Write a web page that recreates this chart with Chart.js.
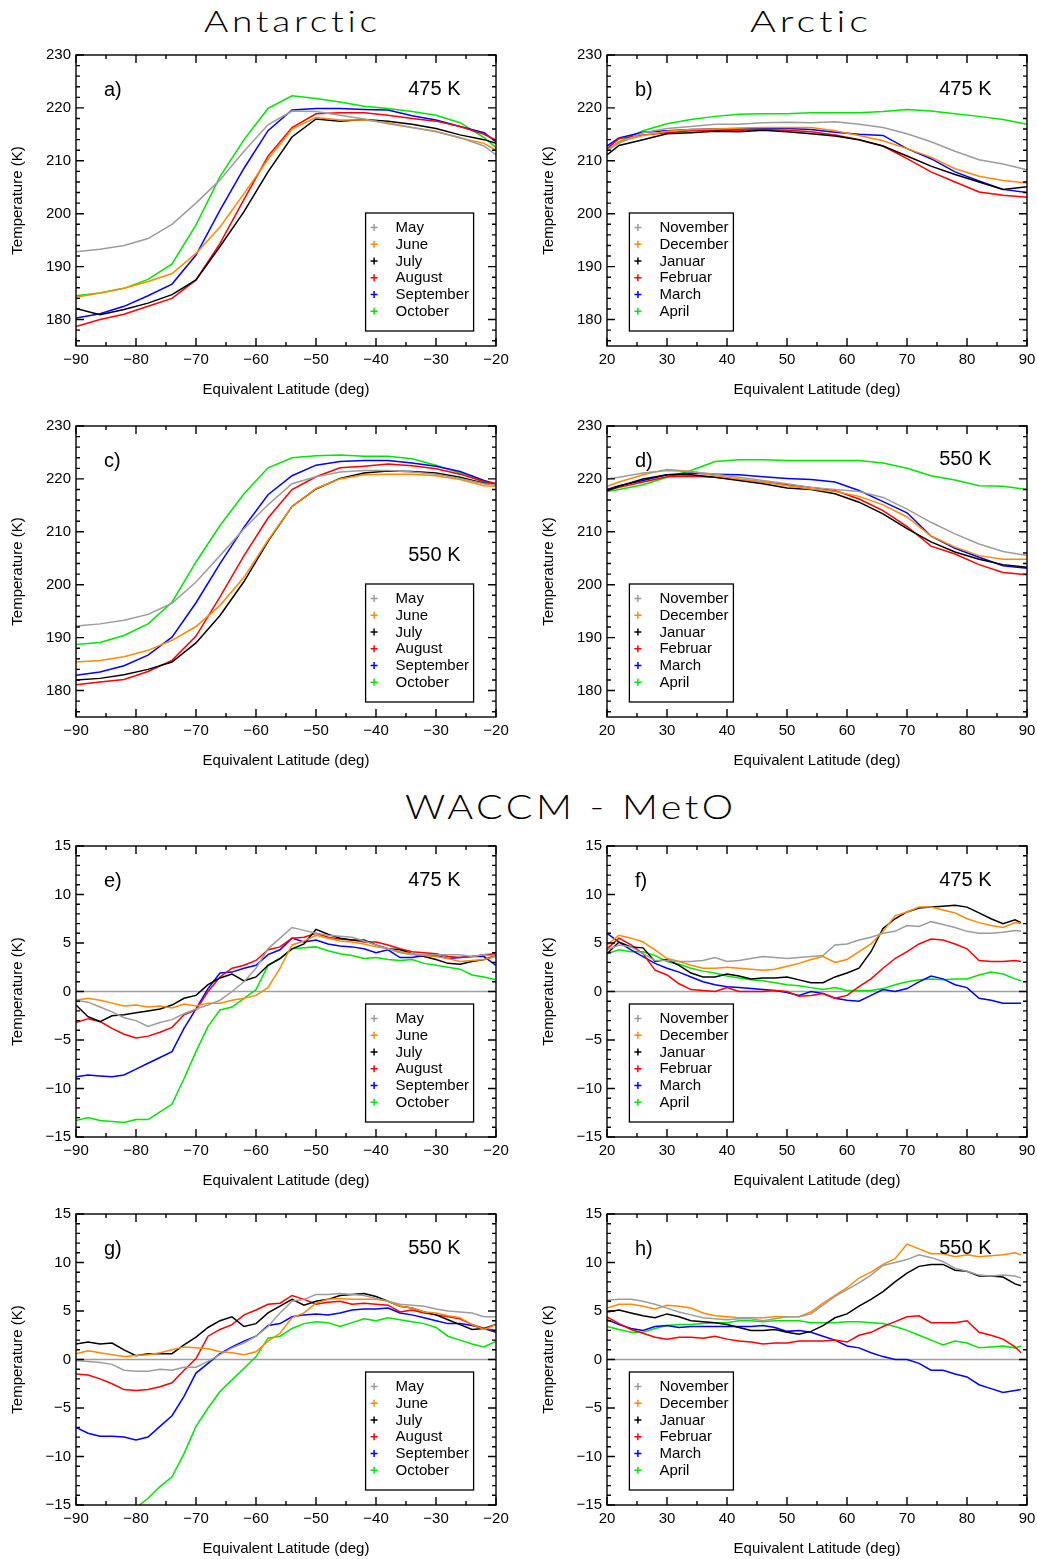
<!DOCTYPE html>
<html><head><meta charset="utf-8">
<script src="https://cdn.jsdelivr.net/npm/chart.js@4.4.1/dist/chart.umd.min.js"></script>
<style>
html,body{margin:0;padding:0;background:#fff;}
body{position:relative;width:1037px;height:1559px;overflow:hidden;}
canvas{position:absolute;}
.ttl{position:absolute;font-family:Lato,"Open Sans",sans-serif;font-weight:300;color:#000;white-space:nowrap;line-height:1;transform-origin:0 50%;}
</style></head><body>
<div class="ttl" id="t1" style="font-size:30px">Antarctic</div>
<div class="ttl" id="t2" style="font-size:30px">Arctic</div>
<div class="ttl" id="t3" style="font-size:34px">WACCM - MetO</div>
<canvas id="pa"></canvas><canvas id="pb"></canvas>
<canvas id="pc"></canvas><canvas id="pd"></canvas>
<canvas id="pe"></canvas><canvas id="pf"></canvas>
<canvas id="pg"></canvas><canvas id="ph"></canvas>
<script>
// ---------- categories / ticks ----------
const monthsSouth = ['May','June','July','August','September','October'];
const monthsNorth = ['November','December','Januar','Februar','March','April'];
const xTicksSouth = [-90,-80,-70,-60,-50,-40,-30,-20];
const xTicksNorth = [20,30,40,50,60,70,80,90];
const yTicksTemp = [180,190,200,210,220,230];
const yTicksDiff = [-15,-10,-5,0,5,10,15];

// latitude grids
const latS = [-90,-86,-82,-78,-74,-70,-66,-62,-58,-54,-50,-46,-42,-38,-34,-30,-26,-22,-20];
const latN = [20,22,26,30,34,38,42,46,50,54,58,62,66,70,74,78,82,86,90];
const latSd = [-90,-88,-86,-84,-82,-80,-78,-76,-74,-72,-70,-68,-66,-64,-62,-60,-58,-56,-54,-52,-50,-48,-46,-44,-42,-40,-38,-36,-34,-32,-30,-28,-26,-24,-22,-20];
const latNd = [20,22,24,26,28,30,32,34,36,38,40,42,44,46,48,50,52,54,56,58,60,62,64,66,68,70,72,74,76,78,80,82,84,86,88,89];

// ---------- a) Antarctic 475 K ----------
const aMay = [192.8,193.3,194.0,195.3,198.0,202.0,206.4,211.8,216.8,219.4,219.3,218.6,217.9,217.0,216.3,215.5,214.4,212.8,211.1];
const aJun = [184.2,185.0,185.9,187.2,188.7,192.5,197.5,203.8,210.3,216.0,218.2,217.7,217.7,217.2,216.3,215.6,214.3,213.3,212.0];
const aJul = [182.1,180.9,181.9,183.1,184.7,187.5,193.8,200.4,207.9,214.5,217.9,217.5,217.8,217.5,216.9,216.1,214.9,214.0,213.3];
const aAug = [178.7,180.0,181.0,182.5,184.0,187.5,194.4,202.7,210.9,216.3,218.9,219.1,219.1,218.6,218.0,217.5,216.5,215.0,213.9];
const aSep = [180.3,181.1,182.5,184.5,186.7,192.2,200.7,208.6,215.7,219.6,219.9,219.9,219.7,219.6,218.5,217.7,216.5,215.3,213.6];
const aOct = [184.5,185.0,185.9,187.6,190.5,197.9,207.0,214.0,219.9,222.3,221.8,221.1,220.3,219.9,219.3,218.6,217.2,214.4,212.5];
// ---------- b) Arctic 475 K ----------
const bNov = [212.0,213.3,215.3,216.1,216.5,216.9,216.9,217.2,217.3,217.2,217.4,216.9,216.3,215.1,213.6,211.8,210.2,209.4,208.3];
const bDec = [211.9,213.6,214.8,215.6,215.9,216.0,216.2,216.3,216.3,216.3,215.7,214.8,213.8,212.3,210.7,208.5,207.1,206.3,205.8];
const bJan = [211.1,212.9,214.0,215.1,215.3,215.6,215.5,215.8,215.5,215.1,214.7,214.0,212.8,210.9,209.0,207.4,206.0,204.6,205.1];
const bFeb = [212.3,214.2,214.9,215.3,215.7,215.8,215.8,215.9,215.8,215.5,214.9,214.0,212.8,210.4,207.9,206.0,204.1,203.5,203.1];
const bMar = [212.8,214.3,215.4,215.7,215.9,216.0,216.0,216.1,216.1,215.9,215.4,215.0,214.8,212.3,210.4,207.9,206.2,204.6,204.0];
const bApr = [212.0,213.6,215.7,217.0,217.8,218.4,218.8,218.9,218.9,219.1,219.1,219.1,219.3,219.7,219.4,218.9,218.4,217.8,216.9];
// ---------- c) Antarctic 550 K ----------
const cMay = [192.2,192.6,193.3,194.4,196.5,200.5,205.5,210.6,215.1,219.1,220.4,221.3,221.6,221.6,221.3,220.9,220.1,219.1,218.9];
const cJun = [185.4,185.7,186.4,187.6,189.5,192.1,196.1,201.4,208.4,214.8,218.2,220.0,220.8,220.9,220.9,220.6,219.9,218.7,218.6];
const cJul = [182.0,182.3,183.0,184.0,185.4,189.0,194.2,200.6,208.2,214.8,218.1,220.1,221.1,221.5,221.4,221.1,220.3,219.2,218.9];
const cAug = [181.1,181.6,182.1,183.6,185.7,190.3,197.7,205.5,212.6,218.0,220.4,222.1,222.4,222.8,222.5,221.9,220.9,219.5,219.1];
const cSep = [182.9,183.5,184.7,186.7,190.1,196.6,204.0,210.9,217.0,220.6,222.6,223.3,223.5,223.5,223.0,222.4,221.4,219.7,219.1];
const cOct = [188.7,189.1,190.4,192.6,196.7,204.3,211.2,217.2,222.1,224.0,224.4,224.5,224.3,224.3,223.8,222.6,221.1,219.4,218.9];
// ---------- d) Arctic 550 K ----------
const dNov = [220.0,220.3,221.1,221.6,221.4,220.9,220.3,219.7,219.1,218.4,218.0,217.6,216.5,214.3,211.8,209.6,207.7,206.3,205.5];
const dDec = [218.6,219.4,220.8,221.8,221.4,220.6,220.0,219.4,218.7,218.1,217.6,216.7,215.1,212.8,209.2,207.1,205.5,204.8,204.8];
const dJan = [217.8,218.6,220.0,220.8,220.8,220.3,219.7,219.1,218.3,218.0,217.2,215.6,213.4,210.6,208.1,206.2,204.8,203.8,203.3];
const dFeb = [217.8,218.4,219.4,220.4,220.5,220.3,219.9,219.4,218.9,218.4,217.8,216.2,214.0,211.0,207.3,205.8,203.8,202.3,201.9];
const dMar = [218.0,218.7,219.7,220.8,221.1,220.9,220.8,220.4,220.1,219.9,219.4,217.8,215.7,213.6,209.2,206.9,205.2,203.6,203.1];
const dApr = [217.6,218.0,218.9,220.3,221.6,223.3,223.6,223.6,223.5,223.5,223.5,223.5,223.0,222.0,220.6,219.8,218.7,218.6,218.0];
// ---------- e) WACCM-MetO Antarctic 475 K ----------
const eMay = [-0.9,-1.1,-1.6,-2.1,-2.7,-3.0,-3.6,-3.2,-2.9,-2.3,-1.8,-1.4,-0.9,0.0,1.0,2.4,4.4,5.5,6.6,6.3,6.0,5.8,5.7,5.6,5.2,4.8,4.4,4.0,3.8,3.8,3.8,3.8,3.8,3.6,3.8,3.6];
const eJun = [-0.9,-0.7,-0.9,-1.2,-1.5,-1.4,-1.6,-1.5,-1.7,-1.3,-1.5,-1.2,-1.2,-0.9,-0.7,-0.4,0.4,2.4,4.8,5.2,5.8,5.5,5.2,5.1,4.9,4.6,4.4,4.1,3.9,3.7,3.6,3.4,3.1,3.2,3.3,3.6];
const eJul = [-1.4,-2.6,-3.1,-2.5,-2.4,-2.2,-2.0,-1.8,-1.4,-0.7,-0.4,0.7,1.4,1.8,1.1,1.5,2.7,3.4,4.4,4.9,6.4,5.9,5.5,5.3,5.3,4.8,4.4,4.3,3.9,3.6,3.3,2.9,2.8,3.1,3.3,3.7];
const eAug = [-3.2,-2.8,-3.1,-3.8,-4.4,-4.8,-4.6,-4.2,-3.7,-2.4,-1.9,0.0,1.5,2.4,2.7,3.2,4.3,4.6,5.5,5.6,6.0,5.6,5.4,5.3,5.1,5.1,4.8,4.4,4.1,4.0,3.9,3.6,3.5,3.6,3.8,3.9];
const eSep = [-8.8,-8.6,-8.7,-8.8,-8.6,-8.0,-7.4,-6.8,-6.2,-3.8,-1.8,0.3,1.9,2.0,2.4,2.7,3.8,4.3,5.5,5.1,5.3,4.9,4.7,4.6,4.4,4.0,4.3,3.5,3.5,3.7,3.7,3.4,3.5,3.6,3.6,2.7];
const eOct = [-13.3,-13.0,-13.3,-13.4,-13.5,-13.2,-13.2,-12.4,-11.6,-9.0,-6.2,-3.6,-1.9,-1.6,-0.7,0.2,2.7,3.4,4.4,4.5,4.6,4.2,3.9,3.7,3.4,3.5,3.3,3.2,3.3,2.9,2.7,2.5,2.3,1.7,1.5,1.2];
// ---------- f) WACCM-MetO Arctic 475 K ----------
const fNov = [4.3,4.8,4.6,3.9,3.2,3.2,3.1,3.1,3.2,3.5,3.1,3.2,3.4,3.6,3.5,3.4,3.5,3.6,3.7,4.8,4.9,5.3,5.6,6.0,6.2,6.8,6.7,7.2,6.9,6.6,6.2,6.0,6.0,6.1,6.3,6.2];
const fDec = [4.8,5.8,5.5,5.1,4.3,3.4,3.1,2.7,2.4,2.4,2.5,2.4,2.3,2.2,2.3,2.6,2.9,3.3,3.6,3.0,3.3,4.1,4.9,6.2,7.8,8.2,8.7,8.7,8.4,8.1,7.5,7.1,6.8,6.6,7.1,7.0];
const fJan = [3.9,5.1,4.6,4.5,3.1,3.3,2.7,1.9,1.5,1.5,1.8,1.6,1.3,1.4,1.4,1.5,1.2,0.9,0.9,1.5,1.9,2.4,4.1,6.5,7.5,8.2,8.6,8.7,8.8,8.9,8.7,8.1,7.5,7.0,7.4,7.1];
const fFeb = [4.4,5.5,4.8,3.9,2.2,1.7,0.8,0.2,0.1,0.0,0.4,0.0,0.0,0.0,0.1,0.0,-0.5,-0.4,-0.2,-0.7,-0.4,0.5,1.3,2.4,3.4,4.1,4.9,5.4,5.3,4.9,4.4,3.2,3.1,3.1,3.2,3.1];
const fMar = [6.0,5.1,4.3,3.6,2.9,2.4,2.0,1.5,1.0,0.7,0.5,0.4,0.3,0.2,0.1,-0.1,-0.4,0.0,-0.2,-0.7,-0.9,-1.0,-0.4,0.2,0.0,0.3,1.0,1.6,1.3,0.7,0.4,-0.7,-0.9,-1.2,-1.2,-1.2];
const fApr = [3.9,4.3,4.1,4.1,3.7,3.1,2.8,2.4,2.1,1.9,1.6,1.4,1.2,1.1,0.9,0.7,0.6,0.4,0.2,0.4,0.1,0.1,0.1,0.3,0.7,1.0,1.2,1.3,1.2,1.3,1.3,1.7,2.0,1.8,1.3,1.1];
// ---------- g) WACCM-MetO Antarctic 550 K ----------
const gMay = [-0.1,-0.2,-0.3,-0.5,-1.1,-1.2,-1.2,-1.0,-1.1,-0.8,-0.8,-0.2,0.5,1.2,1.7,2.4,3.4,4.8,6.0,6.2,6.7,6.7,6.8,6.7,6.6,6.3,6.0,5.7,5.6,5.5,5.2,5.0,4.9,4.8,4.4,4.4];
const gJun = [0.6,0.9,0.7,0.5,0.3,0.4,0.5,0.7,1.0,1.3,1.2,1.1,0.8,0.7,0.5,0.8,1.9,2.7,4.3,4.8,5.8,6.2,6.3,6.2,6.2,6.2,6.0,5.5,5.3,4.9,4.8,4.5,4.3,3.6,3.1,3.6];
const gJul = [1.6,1.8,1.6,1.7,1.0,0.4,0.6,0.6,0.6,1.5,2.3,3.3,4.0,4.4,3.4,3.7,4.8,5.5,6.2,5.6,6.0,6.2,6.6,6.7,6.8,6.5,6.0,5.5,5.3,4.9,4.6,4.1,3.6,3.1,3.2,3.6];
const gAug = [-1.5,-1.6,-2.0,-2.5,-3.1,-3.2,-3.1,-2.8,-2.4,-1.1,0.1,2.4,3.1,3.6,4.6,5.1,5.7,5.8,6.6,6.2,5.7,5.9,6.0,5.7,5.8,5.7,5.6,4.9,5.1,4.8,4.6,4.4,4.2,3.6,3.2,3.0];
const gSep = [-7.0,-7.6,-7.9,-7.9,-8.0,-8.3,-8.0,-6.9,-5.8,-3.8,-1.4,-0.4,0.6,1.3,1.9,2.4,3.5,3.7,4.4,4.6,4.7,4.6,4.8,5.1,5.2,5.2,5.3,4.8,4.6,4.3,4.0,3.7,3.7,3.5,3.2,2.8];
const gOct = [-17.5,-17.4,-17.2,-16.8,-16.2,-15.3,-14.3,-13.1,-12.1,-9.7,-6.9,-5.0,-3.3,-2.1,-0.9,0.3,2.2,2.4,3.2,3.7,3.9,3.8,3.4,3.8,4.2,4.0,4.3,4.1,3.9,3.7,3.3,2.4,2.0,1.6,1.3,1.9];
// ---------- h) WACCM-MetO Arctic 550 K ----------
const hNov = [6.1,6.2,6.2,6.0,5.7,5.3,4.9,4.6,4.3,4.2,4.1,4.2,4.2,4.0,4.2,4.4,4.4,4.7,5.6,6.5,7.2,7.9,8.7,9.7,10.0,10.3,10.8,10.5,10.1,9.4,9.1,8.7,8.6,8.7,8.6,8.4];
const hDec = [5.3,5.7,5.7,5.5,5.2,5.6,5.5,5.3,4.8,4.5,4.4,4.3,4.3,4.3,4.4,4.4,4.4,4.9,5.8,6.6,7.4,8.4,9.0,9.8,10.4,11.9,11.4,10.9,10.9,10.6,10.8,10.6,10.7,10.8,11.0,10.8];
const hJan = [4.9,5.1,4.8,4.5,4.3,4.7,4.4,4.0,3.9,3.8,3.6,3.3,3.0,3.0,3.1,2.8,2.6,2.9,3.5,4.3,4.7,5.5,6.2,7.0,8.0,8.9,9.6,9.8,9.8,9.2,9.1,8.6,8.6,8.5,7.8,7.6];
const hFeb = [4.4,3.7,3.1,2.7,2.3,2.1,2.3,2.3,2.2,2.4,2.1,1.9,1.8,1.6,1.7,1.7,1.9,1.9,1.9,2.0,1.8,2.5,2.8,3.4,3.9,4.4,4.5,3.8,3.8,3.8,4.0,2.8,2.5,2.1,1.3,0.7];
const hMar = [4.1,3.6,3.2,3.0,3.4,3.5,3.3,3.4,3.4,3.4,3.4,3.4,3.4,3.5,3.3,2.9,3.0,2.8,2.4,2.0,1.4,1.2,0.7,0.3,0.0,0.0,-0.4,-1.1,-1.1,-1.5,-1.8,-2.6,-3.0,-3.4,-3.2,-3.1];
const hApr = [3.4,3.1,2.8,2.8,3.2,3.5,3.6,3.6,3.7,3.8,3.8,4.0,4.0,3.9,4.0,4.0,4.0,3.8,3.8,3.8,3.9,3.9,3.8,3.7,3.4,3.0,2.5,2.0,1.5,1.9,1.7,1.2,1.3,1.4,1.2,1.4];

const seriesColors = ['#9c9c9c','#ff8a00','#000000','#ff0000','#0000ff','#00e600'];

// ---------- layout ----------
const FONT = 'Liberation Sans, Arial, sans-serif';
const PLOT_W = 420, PLOT_H = 291, TOPPAD = 15, BOTTOM_H = 55;
const colDefs = [
  {canvasLeft:0, canvasW:520, axisW:76},
  {canvasLeft:520, canvasW:530, axisW:87}
];

function fmtTick(v){ return v < 0 ? '\u2212' + Math.abs(v) : String(v); }

const decoPlugin = {
  id: 'deco',
  beforeDatasetsDraw(chart, args, o) {
    if (!o.zero) return;
    const {ctx, chartArea: ca, scales: {y}} = chart;
    const py = y.getPixelForValue(0);
    ctx.save();
    ctx.strokeStyle = '#a0a0a0'; ctx.lineWidth = 1.5;
    ctx.beginPath(); ctx.moveTo(ca.left, py); ctx.lineTo(ca.right, py); ctx.stroke();
    ctx.restore();
  },
  afterDraw(chart, args, o) {
    const {ctx, chartArea: ca, scales: {x, y}} = chart;
    ctx.save();
    ctx.strokeStyle = '#000'; ctx.lineWidth = 1.4;
    ctx.strokeRect(ca.left, ca.top, ca.right - ca.left, ca.bottom - ca.top);
    ctx.beginPath();
    for (let v = x.min; v <= x.max + 1e-6; v += 5) {
      const px = x.getPixelForValue(v);
      const L = Math.abs(v % 10) < 1e-6 ? 8 : 4;
      ctx.moveTo(px, ca.bottom); ctx.lineTo(px, ca.bottom - L);
      ctx.moveTo(px, ca.top); ctx.lineTo(px, ca.top + L);
    }
    for (let v = o.yMinorStart; v <= y.max + 1e-6; v += o.yMinor) {
      const py = y.getPixelForValue(v);
      const L = Math.abs(v % o.yMajor) < 1e-6 ? 8 : 4;
      ctx.moveTo(ca.left, py); ctx.lineTo(ca.left + L, py);
      ctx.moveTo(ca.right, py); ctx.lineTo(ca.right - L, py);
    }
    ctx.stroke();

    ctx.fillStyle = '#000';
    ctx.textBaseline = 'middle';
    ctx.font = '20px ' + FONT;
    ctx.textAlign = 'left';
    ctx.fillText(o.tag, ca.left + 28, ca.top + 35);
    ctx.textAlign = 'right';
    ctx.fillText(o.level, ca.right - 35.5, ca.top + o.levelY);

    ctx.font = '15px ' + FONT;
    ctx.textAlign = 'center';
    ctx.fillText('Equivalent Latitude (deg)', (ca.left + ca.right) / 2, ca.bottom + 43.5);
    ctx.save();
    ctx.translate(ca.left - 58, (ca.top + ca.bottom) / 2);
    ctx.rotate(-Math.PI / 2);
    ctx.fillText('Temperature (K)', 0, 0);
    ctx.restore();

    // legend box
    const bw = o.legRight ? 108 : 104, bh = 118;
    const bx = o.legRight ? ca.right - 22.4 - bw : ca.left + 22.4;
    const by = ca.bottom - 15 - bh;
    ctx.strokeStyle = '#000'; ctx.lineWidth = 1.3;
    ctx.strokeRect(bx, by, bw, bh);
    ctx.textAlign = 'left';
    chart.data.datasets.forEach((ds, i) => {
      const cy = by + 14.6 + i * 16.75;
      const cx = bx + 8.5;
      ctx.strokeStyle = ds.borderColor; ctx.lineWidth = 1.5;
      ctx.beginPath();
      ctx.moveTo(cx - 3.5, cy); ctx.lineTo(cx + 3.5, cy);
      ctx.moveTo(cx, cy - 3.5); ctx.lineTo(cx, cy + 3.5);
      ctx.stroke();
      ctx.fillStyle = '#000';
      ctx.fillText(ds.label, bx + 30, cy + 0.5);
    });
    ctx.restore();
  }
};

function makePanel(p) {
  const col = colDefs[p.col];
  const cv = document.getElementById(p.id);
  const H = TOPPAD + PLOT_H + BOTTOM_H;
  cv.width = col.canvasW; cv.height = H;
  cv.style.left = col.canvasLeft + 'px';
  cv.style.top = (p.plotTop - TOPPAD) + 'px';
  cv.style.width = col.canvasW + 'px'; cv.style.height = H + 'px';
  const rightPad = col.canvasW - col.axisW - PLOT_W;
  const datasets = p.series.map((vals, i) => ({
    label: p.names[i],
    data: p.lat.map((x, k) => ({x: x, y: vals[k]})),
    borderColor: seriesColors[i],
    backgroundColor: seriesColors[i],
    borderWidth: 1.5,
    pointRadius: 0,
    fill: false,
    tension: 0
  }));
  new Chart(cv, {
    type: 'line',
    data: {datasets},
    options: {
      responsive: false, animation: false, devicePixelRatio: 1,
      layout: {padding: {top: TOPPAD, right: rightPad, left: 0, bottom: 0}},
      plugins: {
        legend: {display: false}, tooltip: {enabled: false},
        deco: {zero: p.zero, yMinor: p.yMinor, yMajor: p.yMajor, yMinorStart: p.yMinorStart,
               tag: p.tag, level: p.level, levelY: p.levelY, legRight: p.col === 0}
      },
      scales: {
        x: {
          type: 'linear', position: 'bottom', min: p.xTicks[0], max: p.xTicks[p.xTicks.length - 1],
          grid: {display: false, drawTicks: false}, border: {display: false},
          ticks: {color: '#000', font: {family: FONT, size: 15}, padding: 5, maxRotation: 0, autoSkip: false, callback: fmtTick},
          afterBuildTicks: s => { s.ticks = p.xTicks.map(v => ({value: v})); },
          afterFit: s => { s.height = BOTTOM_H; }
        },
        y: {
          type: 'linear', min: p.yMin, max: p.yMax,
          grid: {display: false, drawTicks: false}, border: {display: false},
          ticks: {color: '#000', font: {family: FONT, size: 15}, padding: 5, autoSkip: false, callback: fmtTick},
          afterBuildTicks: s => { s.ticks = p.yTicks.map(v => ({value: v})); },
          afterFit: s => { s.width = col.axisW; }
        }
      }
    },
    plugins: [decoPlugin]
  });
}

const tempOpts = {yMin: 175, yMax: 230, yTicks: yTicksTemp, yMinor: 2, yMajor: 10, yMinorStart: 176, zero: false};
const diffOpts = {yMin: -15, yMax: 15, yTicks: yTicksDiff, yMinor: 1, yMajor: 5, yMinorStart: -15, zero: true};

const panelList = [
  Object.assign({id:'pa', col:0, plotTop:55, lat:latS, xTicks:xTicksSouth, names:monthsSouth, series:[aMay,aJun,aJul,aAug,aSep,aOct], tag:'a)', level:'475 K', levelY:34}, tempOpts),
  Object.assign({id:'pb', col:1, plotTop:55, lat:latN, xTicks:xTicksNorth, names:monthsNorth, series:[bNov,bDec,bJan,bFeb,bMar,bApr], tag:'b)', level:'475 K', levelY:34}, tempOpts),
  Object.assign({id:'pc', col:0, plotTop:426, lat:latS, xTicks:xTicksSouth, names:monthsSouth, series:[cMay,cJun,cJul,cAug,cSep,cOct], tag:'c)', level:'550 K', levelY:129}, tempOpts),
  Object.assign({id:'pd', col:1, plotTop:426, lat:latN, xTicks:xTicksNorth, names:monthsNorth, series:[dNov,dDec,dJan,dFeb,dMar,dApr], tag:'d)', level:'550 K', levelY:33}, tempOpts),
  Object.assign({id:'pe', col:0, plotTop:846, lat:latSd, xTicks:xTicksSouth, names:monthsSouth, series:[eMay,eJun,eJul,eAug,eSep,eOct], tag:'e)', level:'475 K', levelY:34}, diffOpts),
  Object.assign({id:'pf', col:1, plotTop:846, lat:latNd, xTicks:xTicksNorth, names:monthsNorth, series:[fNov,fDec,fJan,fFeb,fMar,fApr], tag:'f)', level:'475 K', levelY:34}, diffOpts),
  Object.assign({id:'pg', col:0, plotTop:1214, lat:latSd, xTicks:xTicksSouth, names:monthsSouth, series:[gMay,gJun,gJul,gAug,gSep,gOct], tag:'g)', level:'550 K', levelY:34}, diffOpts),
  Object.assign({id:'ph', col:1, plotTop:1214, lat:latNd, xTicks:xTicksNorth, names:monthsNorth, series:[hNov,hDec,hJan,hFeb,hMar,hApr], tag:'h)', level:'550 K', levelY:34}, diffOpts)
];
panelList.forEach(makePanel);

// titles: modest tracking, then stretch horizontally to the measured width
function placeTitle(id, cx, cy, targetW, track) {
  const el = document.getElementById(id);
  el.style.letterSpacing = track + 'px';
  const r = el.getBoundingClientRect();
  const w = r.width - track;            // drop trailing tracking
  const sx = targetW / w;
  el.style.transform = 'scaleX(' + sx + ')';
  el.style.left = (cx - targetW / 2) + 'px';
  el.style.top = (cy - r.height / 2) + 'px';
}
placeTitle('t1', 290, 20, 173, 3);
placeTitle('t2', 809, 20, 118, 3);
placeTitle('t3', 569, 806, 328, 3);
</script>
</body></html>
